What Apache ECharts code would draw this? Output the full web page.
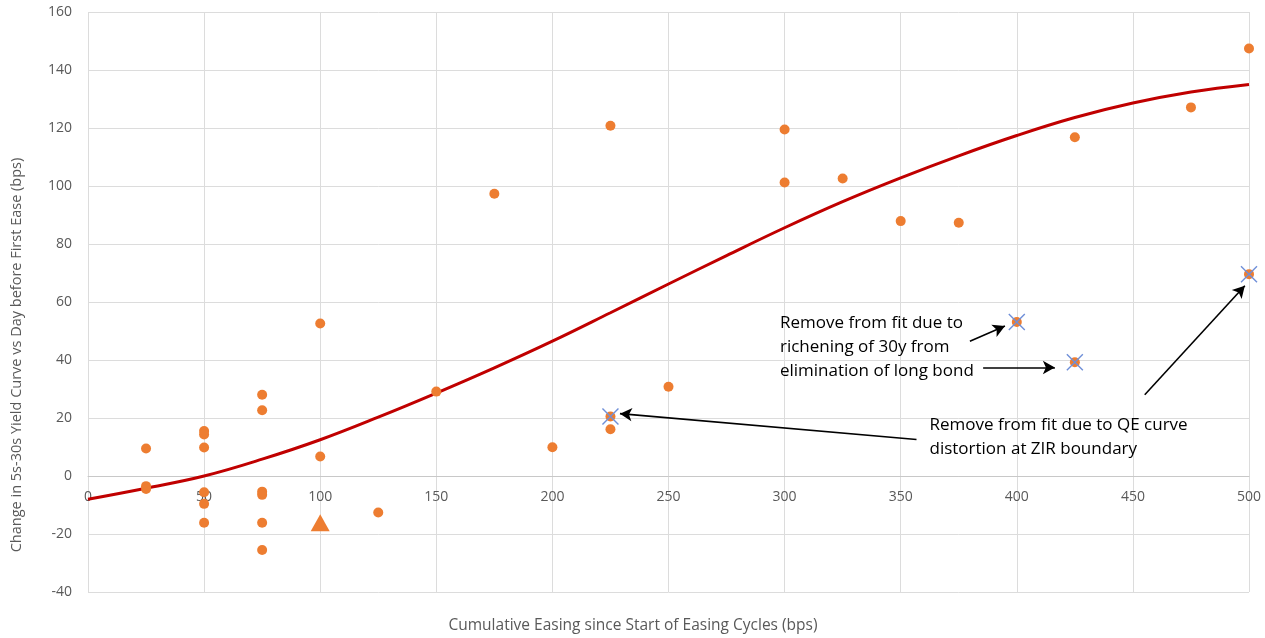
<!DOCTYPE html>
<html>
<head>
<meta charset="utf-8">
<script src="https://cdn.jsdelivr.net/npm/echarts@6/dist/echarts.min.js"></script>
<style>html,body{margin:0;padding:0;background:#fff;}#c{width:1265px;height:638px;}</style>
</head>
<body>
<div id="c"></div>
<script>
// Observed points used in fit
const fitX = [25, 25, 25, 50, 50, 50, 50, 50, 50, 75, 75, 75, 75, 75, 75, 100, 100, 125, 150, 175, 200, 225, 225, 250, 300, 300, 325, 350, 375, 425, 475, 500];
const fitY = [9.5, -3.5, -4.5, 15.5, 14.3, 9.8, -5.6, -9.6, -16.1, 28, 22.7, -5.4, -6.5, -16.1, -25.5, 52.6, 6.7, -12.6, 29.1, 97.3, 9.9, 120.8, 16.1, 30.8, 119.5, 101.2, 102.6, 87.9, 87.3, 116.8, 127.1, 147.4];
// Points removed from fit
const removedX = [225, 400, 425, 500];
const removedY = [20.5, 53.1, 39.2, 69.6];
// Triangle marker point
const triX = [100];
const triY = [-16.1];
// Fitted curve
const curveX = [0, 25, 50, 75, 100, 125, 150, 175, 200, 225, 250, 275, 300, 325, 350, 375, 400, 425, 450, 475, 500];
const curveY = [-8, -4.2, 0, 5.8, 12.5, 20.3, 28.6, 37.3, 46.5, 56.3, 66.2, 76, 85.6, 94.6, 102.8, 110.4, 117.4, 123.6, 128.6, 132.4, 135];
// Axis ticks
const xTicks = {min: 0, max: 500, interval: 50};
const yTicks = {min: -40, max: 160, interval: 20};
// Annotation texts
const note1 = 'Remove from fit due to\nrichening of 30y from\nelimination of long bond';
const note2 = 'Remove from fit due to QE curve\ndistortion at ZIR boundary';
// Annotation anchors and arrows (in data space)
const note1At = [298, 44.3];
const note2At = [362.4, 13.3];
const arrows = [
  [[379.8, 46.5], [394.9, 51.7]],
  [[385.5, 37.4], [416.4, 37.4]],
  [[455.1, 28.0], [498.2, 65.6]],
  [[356.8, 12.6], [229.1, 21.5]]
];

const zip = (a, b) => a.map((v, i) => [v, b[i]]);
const FONT = 'Open Sans';
const GRAY = '#595959';
const ORANGE = '#ED7D31';

const chart = echarts.init(document.getElementById('c'), null, {renderer: 'canvas'});
chart.setOption({
  backgroundColor: '#fff',
  animation: false,
  textStyle: {fontFamily: FONT},
  grid: {left: 88, right: 16, top: 12, bottom: 46, containLabel: false},
  xAxis: {
    type: 'value', min: xTicks.min, max: xTicks.max, interval: xTicks.interval,
    position: 'bottom', offset: -116,
    axisLine: {show: true, onZero: false, lineStyle: {color: '#c8c8c8', width: 1}},
    axisTick: {show: false},
    axisLabel: {color: GRAY, fontSize: 14, margin: 14, fontFamily: FONT},
    splitLine: {show: true, lineStyle: {color: '#dcdcdc', width: 1}}
  },
  yAxis: {
    type: 'value', min: yTicks.min, max: yTicks.max, interval: yTicks.interval,
    axisLine: {show: false},
    axisTick: {show: false},
    axisLabel: {color: GRAY, fontSize: 14, margin: 16, fontFamily: FONT},
    splitLine: {show: true, lineStyle: {color: '#dcdcdc', width: 1}}
  },
  graphic: [
    {type: 'text', x: 17, y: 355, rotation: Math.PI / 2,
     style: {text: 'Change in 5s-30s Yield Curve vs Day before First Ease (bps)', fill: GRAY, font: '14.5px "Open Sans"', textAlign: 'center', textVerticalAlign: 'middle'}},
    {type: 'text', x: 633, y: 626,
     style: {text: 'Cumulative Easing since Start of Easing Cycles (bps)', fill: GRAY, font: '15.5px "Open Sans"', textAlign: 'center', textVerticalAlign: 'middle'}}
  ],
  series: [
    {
      type: 'line', name: 'fit', data: zip(curveX, curveY), smooth: 0.4, showSymbol: false,
      lineStyle: {color: '#C00000', width: 3}, z: 2,
      markPoint: {
        silent: true, symbol: 'circle', symbolSize: 0,
        label: {show: true, position: [0, 0], align: 'left', verticalAlign: 'middle', color: '#000', fontSize: 17, lineHeight: 24, fontFamily: FONT,
                formatter: p => p.name},
        data: [
          {name: note1, coord: note1At},
          {name: note2, coord: note2At}
        ]
      },
      markLine: {
        silent: true, symbol: ['none', 'arrow'], symbolSize: [10, 12],
        label: {show: false},
        lineStyle: {color: '#000', width: 1.6, type: 'solid'},
        data: arrows.map(a => [{coord: a[0]}, {coord: a[1]}])
      }
    },
    {type: 'scatter', name: 'points', data: zip(fitX, fitY), symbol: 'circle', symbolSize: 10,
     itemStyle: {color: ORANGE, opacity: 1}, z: 3},
    {type: 'scatter', name: 'removed', data: zip(removedX, removedY), symbol: 'circle', symbolSize: 10,
     itemStyle: {color: ORANGE, opacity: 1}, z: 3},
    {type: 'scatter', name: 'removedX', data: zip(removedX, removedY), symbol: 'path://M0,0L10,10M10,0L0,10', symbolSize: 16,
     itemStyle: {color: 'rgba(0,0,0,0)', borderColor: '#6F8FD8', borderWidth: 1.4, opacity: 1}, z: 4},
    {type: 'scatter', name: 'triangle', data: zip(triX, triY), symbol: 'triangle', symbolSize: [19, 17],
     itemStyle: {color: ORANGE, opacity: 1}, z: 3}
  ]
});
</script>
</body>
</html>
